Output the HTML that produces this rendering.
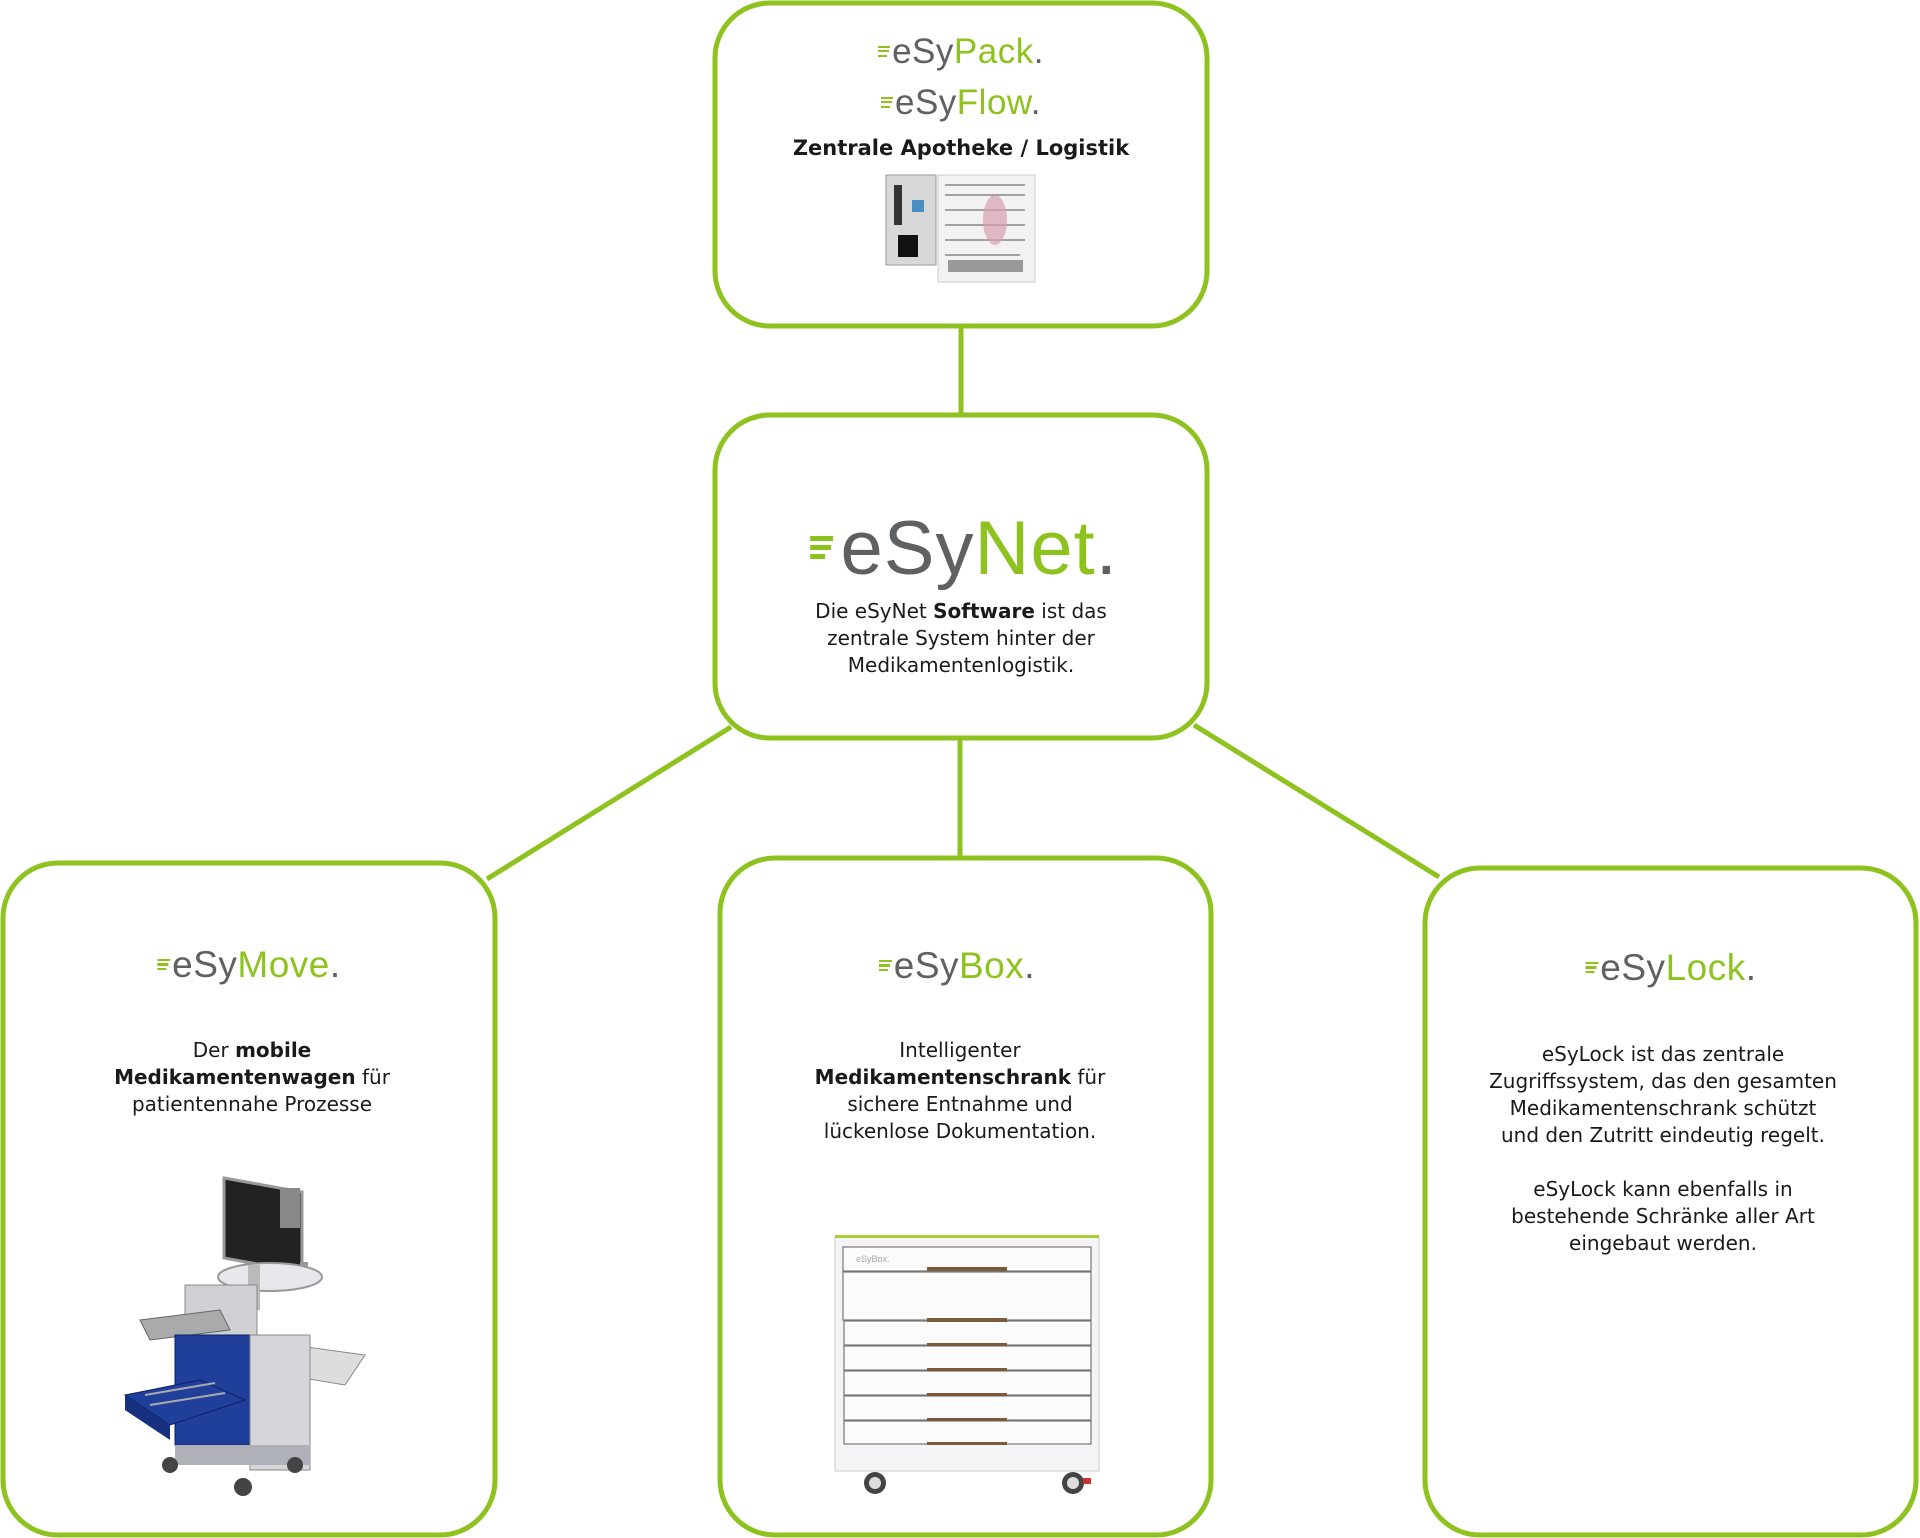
<!DOCTYPE html>
<html><head><meta charset="utf-8"><style>
html,body{margin:0;padding:0;background:#fff}
body{width:1920px;height:1538px;position:relative;overflow:hidden;font-family:"Liberation Sans","DejaVu Sans",sans-serif;color:#1a1a1a}
.t{position:absolute;text-align:center;font-family:"DejaVu Sans",sans-serif;font-size:20px;line-height:27px;transform:translateX(-50%);white-space:nowrap}
.logo{position:absolute;transform:translateX(-50%);white-space:nowrap;color:#5f6062;letter-spacing:0.5px}
.logo .g{color:#8dc21f}
.logo .sp{display:inline-block;position:relative;width:0.4em;height:0.5em}
.logo .sp i{position:absolute;left:0;height:0.06em;background:#8dc21f}
</style></head><body>
<svg width="1920" height="1538" style="position:absolute;left:0;top:0">
<g fill="none" stroke="#8dc21f" stroke-width="5">
<rect x="715" y="3" width="492" height="323" rx="55"/>
<rect x="715" y="415" width="492" height="323" rx="55"/>
<rect x="3" y="863" width="492" height="672" rx="55"/>
<rect x="720" y="858" width="491" height="677" rx="55"/>
<rect x="1425" y="868" width="491" height="667" rx="55"/>
<line x1="961" y1="326" x2="961" y2="415"/>
<line x1="960" y1="738" x2="960" y2="858"/>
<line x1="731" y1="727" x2="487" y2="879"/>
<line x1="1194" y1="725" x2="1439" y2="877"/>
</g>
<rect x="886" y="175" width="50" height="90" fill="#d8d8d8" stroke="#999"/>
<rect x="894" y="185" width="8" height="40" fill="#333"/>
<rect x="912" y="200" width="12" height="12" fill="#4a8fc0"/>
<rect x="898" y="235" width="20" height="22" fill="#111"/>
<rect x="938" y="175" width="97" height="107" fill="#f2f2f2" stroke="#ccc"/>
<g stroke="#888" stroke-width="1.5">
<line x1="945" y1="185" x2="1025" y2="185"/><line x1="945" y1="195" x2="1025" y2="195"/>
<line x1="945" y1="210" x2="1025" y2="210"/><line x1="945" y1="225" x2="1025" y2="225"/>
<line x1="945" y1="240" x2="1025" y2="240"/><line x1="945" y1="255" x2="1020" y2="255"/></g>
<ellipse cx="995" cy="220" rx="12" ry="25" fill="#d9a0b0" opacity="0.7"/>
<rect x="948" y="260" width="75" height="12" fill="#999"/>
<rect x="835" y="1237" width="264" height="234" fill="#f4f4f6" stroke="#ccc"/>
<rect x="835" y="1235" width="264" height="3" fill="#a6d030"/>
<g fill="#fbfbfc" stroke="#777" stroke-width="1.2">
<rect x="843" y="1247" width="248" height="24"/>
<rect x="843" y="1272" width="248" height="48"/>
<rect x="844" y="1321" width="247" height="24"/>
<rect x="844" y="1346" width="247" height="24"/>
<rect x="844" y="1371" width="247" height="24"/>
<rect x="844" y="1396" width="247" height="24"/>
<rect x="844" y="1421" width="247" height="23"/>
</g>
<g fill="#7a5a3a">
<rect x="927" y="1267" width="80" height="4"/><rect x="927" y="1318" width="80" height="4"/>
<rect x="927" y="1343" width="80" height="3"/><rect x="927" y="1368" width="80" height="3"/>
<rect x="927" y="1393" width="80" height="3"/><rect x="927" y="1418" width="80" height="3"/>
<rect x="927" y="1442" width="80" height="3"/></g>
<text x="856" y="1262" font-size="9" fill="#aaa" font-family="Liberation Sans">eSyBox.</text>
<circle cx="875" cy="1483" r="11" fill="#444"/><circle cx="875" cy="1483" r="6" fill="#ddd"/>
<circle cx="1073" cy="1483" r="11" fill="#444"/><circle cx="1073" cy="1483" r="6" fill="#ddd"/>
<rect x="1083" y="1478" width="8" height="6" fill="#c33"/>
<g>
<polygon points="224,1178 302,1192 302,1272 224,1258" fill="#222" stroke="#999" stroke-width="3"/>
<rect x="280" y="1188" width="20" height="40" fill="#888"/>
<rect x="300" y="1262" width="8" height="20" fill="#999"/>
<ellipse cx="270" cy="1277" rx="52" ry="14" fill="#e8e8ec" stroke="#999" stroke-width="2"/>
<rect x="248" y="1265" width="12" height="45" fill="#bbb"/>
<rect x="185" y="1285" width="72" height="50" fill="#cfcfd4" stroke="#888"/>
<polygon points="140,1320 220,1310 230,1330 150,1340" fill="#aaa" stroke="#666"/>
<polygon points="255,1340 365,1355 345,1385 255,1370" fill="#ddd" stroke="#888"/>
<rect x="175" y="1335" width="75" height="110" fill="#1f3f9a" stroke="#0f2060"/>
<polygon points="125,1395 200,1380 245,1400 170,1425" fill="#1f3f9a" stroke="#0f2060"/>
<polygon points="125,1395 125,1410 170,1440 170,1425" fill="#173080"/>
<g stroke="#aaa" stroke-width="2"><line x1="145" y1="1395" x2="215" y2="1383"/><line x1="150" y1="1405" x2="225" y2="1393"/></g>
<rect x="250" y="1335" width="60" height="135" fill="#d6d6da" stroke="#888"/>
<rect x="175" y="1445" width="135" height="20" fill="#b0b0b8"/>
<circle cx="170" cy="1465" r="8" fill="#444"/><circle cx="295" cy="1465" r="8" fill="#444"/>
<circle cx="243" cy="1487" r="9" fill="#444"/>
</g>
</svg>

<div class="logo" style="left:961px;top:32px;font-size:35px"><span class="sp"><i style="top:0;width:0.35em"></i><i style="top:0.13em;width:0.3em"></i><i style="top:0.26em;width:0.25em"></i></span>eSy<span class="g">Pack</span>.</div>
<div class="logo" style="left:961px;top:83px;font-size:35px"><span class="sp"><i style="top:0;width:0.35em"></i><i style="top:0.13em;width:0.3em"></i><i style="top:0.26em;width:0.25em"></i></span>eSy<span class="g">Flow</span>.</div>
<div class="t" style="left:961px;top:135px;font-weight:bold;font-size:21px">Zentrale Apotheke / Logistik</div>

<div class="logo" style="left:964px;top:505px;font-size:76px;letter-spacing:1px"><span class="sp"><i style="top:0;width:0.3em"></i><i style="top:0.12em;width:0.27em"></i><i style="top:0.24em;width:0.2em"></i></span>eSy<span class="g">Net</span>.</div>
<div class="t" style="left:961px;top:598px">Die eSyNet <b>Software</b> ist das<br>zentrale System hinter der<br>Medikamentenlogistik.</div>

<div class="logo" style="left:249px;top:944px;font-size:37px"><span class="sp"><i style="top:0;width:0.35em"></i><i style="top:0.13em;width:0.3em"></i><i style="top:0.26em;width:0.25em"></i></span>eSy<span class="g">Move</span>.</div>
<div class="t" style="left:252px;top:1037px">Der <b>mobile</b><br><b>Medikamentenwagen</b> für<br>patientennahe Prozesse</div>

<div class="logo" style="left:957px;top:945px;font-size:37px"><span class="sp"><i style="top:0;width:0.35em"></i><i style="top:0.13em;width:0.3em"></i><i style="top:0.26em;width:0.25em"></i></span>eSy<span class="g">Box</span>.</div>
<div class="t" style="left:960px;top:1037px">Intelligenter<br><b>Medikamentenschrank</b> für<br>sichere Entnahme und<br>lückenlose Dokumentation.</div>

<div class="logo" style="left:1671px;top:947px;font-size:37px"><span class="sp"><i style="top:0;width:0.35em"></i><i style="top:0.13em;width:0.3em"></i><i style="top:0.26em;width:0.25em"></i></span>eSy<span class="g">Lock</span>.</div>
<div class="t" style="left:1663px;top:1041px">eSyLock ist das zentrale<br>Zugriffssystem, das den gesamten<br>Medikamentenschrank schützt<br>und den Zutritt eindeutig regelt.<br><br>eSyLock kann ebenfalls in<br>bestehende Schränke aller Art<br>eingebaut werden.</div>
</body></html>
